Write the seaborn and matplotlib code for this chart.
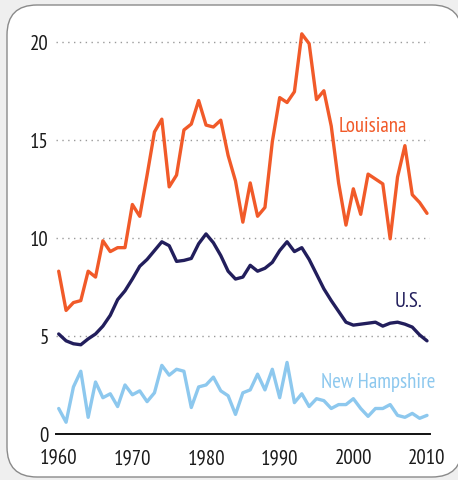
import matplotlib
matplotlib.use("Agg")
import matplotlib.pyplot as plt
from matplotlib.patches import FancyBboxPatch
from matplotlib.transforms import IdentityTransform
import pandas as pd
import seaborn as sns

years = list(range(1960, 2011))

louisiana = [8.3, 6.3, 6.7, 6.8, 8.3, 8.0, 9.85, 9.3, 9.5, 9.5,
             11.7, 11.1, 13.2, 15.4, 16.05, 12.6, 13.2, 15.5, 15.8, 17.0,
             15.75, 15.65, 16.0, 14.2, 12.9, 10.8, 12.8, 11.1, 11.55, 14.9,
             17.15, 16.9, 17.45, 20.4, 19.9, 17.05, 17.5, 15.7, 12.8, 10.65,
             12.5, 11.2, 13.25, 13.0, 12.75, 9.95, 13.1, 14.7, 12.2, 11.8,
             11.25]

us = [5.1, 4.75, 4.6, 4.55, 4.85, 5.1, 5.5, 6.05, 6.85, 7.3,
      7.9, 8.55, 8.9, 9.35, 9.8, 9.6, 8.8, 8.85, 8.95, 9.7,
      10.2, 9.75, 9.1, 8.3, 7.9, 8.0, 8.6, 8.3, 8.45, 8.75,
      9.35, 9.8, 9.3, 9.5, 8.9, 8.15, 7.4, 6.8, 6.25, 5.7,
      5.55, 5.6, 5.65, 5.7, 5.5, 5.65, 5.7, 5.6, 5.45, 5.05,
      4.75]

new_hampshire = [1.3, 0.6, 2.4, 3.2, 0.85, 2.65, 1.85, 2.05, 1.4, 2.5,
                 2.0, 2.2, 1.65, 2.1, 3.5, 3.0, 3.3, 3.2, 1.35, 2.4,
                 2.5, 2.9, 2.2, 1.95, 1.0, 2.1, 2.25, 3.05, 2.25, 3.3,
                 1.85, 3.65, 1.6, 2.05, 1.4, 1.8, 1.7, 1.3, 1.5, 1.5,
                 1.8, 1.3, 0.9, 1.3, 1.3, 1.5, 0.95, 0.85, 1.05, 0.8,
                 0.95]

series_names = ["Louisiana", "U.S.", "New Hampshire"]
series_colors = ["#f15a29", "#221e5c", "#8dc8ee"]
x_ticks = [1960, 1970, 1980, 1990, 2000, 2010]
y_ticks = [0, 5, 10, 15, 20]

df = pd.DataFrame({
    "year": years * 3,
    "rate": louisiana + us + new_hampshire,
    "state": [n for n in series_names for _ in years],
})

sns.set_theme(style="white")
plt.rcParams["font.family"] = ["PT Sans Narrow", "Roboto Condensed", "DejaVu Sans"]

W, H = 458, 481
fig = plt.figure(figsize=(W / 100, H / 100), dpi=100, facecolor="#efefef")

# white rounded card behind the chart
card = FancyBboxPatch((7, 3), 455, 472,
                      boxstyle="round,pad=0,rounding_size=30",
                      transform=IdentityTransform(),
                      facecolor="white", edgecolor="#8a8a8a", linewidth=1.0,
                      zorder=-10)
fig.add_artist(card)

px_per_unit = 19.615
ax_left, ax_right, ax_bottom = 55.7, 430.0, 435.0
ymax = 21.0
ax = fig.add_axes([ax_left / W, (H - ax_bottom) / H,
                   (ax_right - ax_left) / W, ymax * px_per_unit / H])
ax.set_facecolor("none")

sns.lineplot(data=df, x="year", y="rate", hue="state",
             palette=dict(zip(series_names, series_colors)),
             hue_order=series_names, linewidth=2.4, legend=False, ax=ax,
             zorder=3)

ax.set_xlim(1960 - 3 / 7.365, 2010 + 3 / 7.365)
ax.set_ylim(0, ymax)
ax.set_xticks(x_ticks)
ax.set_yticks(y_ticks)
ax.set_xlabel("")
ax.set_ylabel("")

for y in y_ticks[1:]:
    ax.axhline(y, color="#9a9a9a", linewidth=1.0, linestyle=(0, (1, 3.2)), zorder=1)

for side in ["top", "right", "left"]:
    ax.spines[side].set_visible(False)
ax.spines["bottom"].set_color("#111111")
ax.spines["bottom"].set_linewidth(1.4)

ax.tick_params(axis="both", length=0, labelsize=15, colors="#1a1a1a")
ax.tick_params(axis="x", pad=10)
ax.tick_params(axis="y", pad=5)

label_kw = dict(fontsize=15, ha="left", va="baseline", clip_on=False)
ax.text(1998.05, 15.45, "Louisiana", color=series_colors[0], **label_kw)
ax.text(2005.65, 6.53, "U.S.", color=series_colors[1], **label_kw)
ax.text(1995.6, 2.4, "New Hampshire", color=series_colors[2], **label_kw)

fig.savefig("out.png", dpi=100, facecolor=fig.get_facecolor())
